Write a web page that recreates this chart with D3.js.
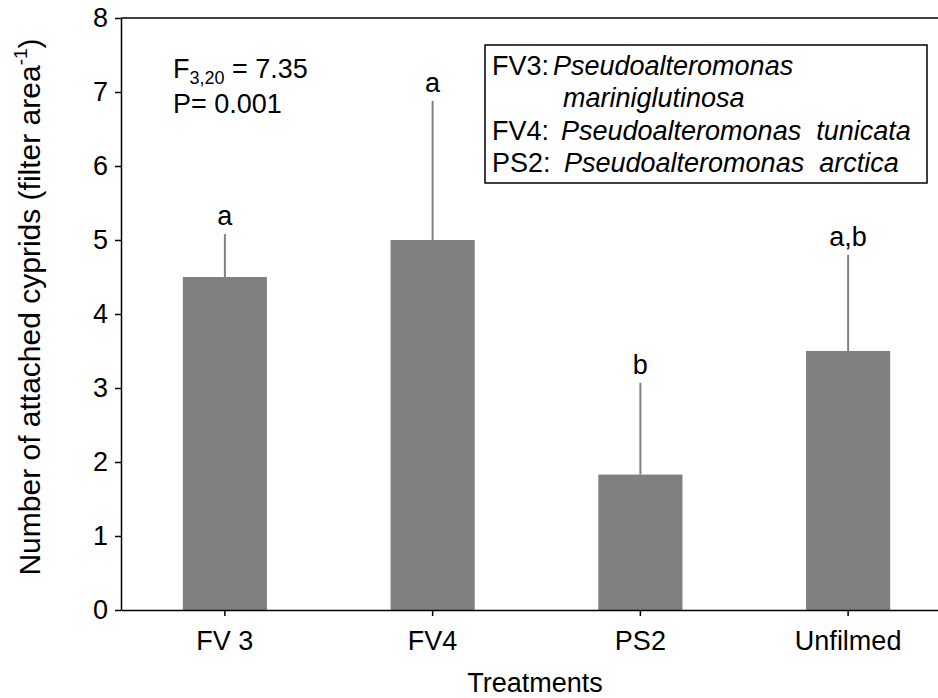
<!DOCTYPE html>
<html><head><meta charset="utf-8">
<script src="https://cdn.jsdelivr.net/npm/d3@7"></script>
<style>body{margin:0;background:#fff}svg{display:block}text{font-family:"Liberation Sans",Arial,sans-serif;fill:#000}</style>
</head><body>
<svg id="c" width="938" height="698"></svg>
<script>
const categories = ["FV 3", "FV4", "PS2", "Unfilmed"];
const means = [4.5, 5.0, 1.83, 3.5];
const errUpper = [5.08, 6.88, 3.07, 4.8];
const letters = ["a", "a", "b", "a,b"];
const yTicks = [0, 1, 2, 3, 4, 5, 6, 7, 8];

(function () {
const svg = d3.select("#c");
const pL = 121, pR = 952, pT = 18, pB = 610;
const fs = 27;
const x = d3.scaleBand().domain(categories).range([pL, pR]).paddingInner(0.595).paddingOuter(0.2975);
const y = d3.scaleLinear().domain([0, 8]).range([pB, pT]);

// bars
svg.selectAll("rect.bar").data(categories).join("rect").attr("class", "bar")
  .attr("x", d => x(d)).attr("width", x.bandwidth())
  .attr("y", (d, i) => y(means[i])).attr("height", (d, i) => y(0) - y(means[i]))
  .attr("fill", "#808080");

// error bars (upper only)
svg.selectAll("line.err").data(categories).join("line").attr("class", "err")
  .attr("x1", d => x(d) + x.bandwidth() / 2).attr("x2", d => x(d) + x.bandwidth() / 2)
  .attr("y1", (d, i) => y(means[i])).attr("y2", (d, i) => y(errUpper[i]))
  .attr("stroke", "#808080").attr("stroke-width", 2);

// letters
svg.selectAll("text.let").data(categories).join("text").attr("class", "let")
  .attr("x", d => x(d) + x.bandwidth() / 2).attr("y", (d, i) => y(errUpper[i]) - 9)
  .attr("text-anchor", "middle").attr("font-size", fs).text((d, i) => letters[i]);

// axes
const yAxis = d3.axisLeft(y).tickValues(yTicks).tickSize(6).tickPadding(7).tickSizeOuter(0);
const gy = svg.append("g").attr("transform", `translate(${pL},0)`).call(yAxis);
const xAxis = d3.axisBottom(x).tickSize(6).tickPadding(15).tickSizeOuter(0);
const gx = svg.append("g").attr("transform", `translate(0,${pB})`).call(xAxis);
[gx, gy].forEach(g => {
  g.select(".domain").attr("stroke", "#000").attr("stroke-width", 1.5);
  g.selectAll(".tick line").attr("stroke", "#000").attr("stroke-width", 1.5);
  g.selectAll(".tick text").attr("font-size", fs).attr("font-family", "Liberation Sans, Arial, sans-serif").attr("fill", "#000");
});
// top frame line
svg.append("line").attr("x1", pL).attr("x2", pR).attr("y1", y(8)).attr("y2", y(8))
  .attr("stroke", "#000").attr("stroke-width", 1.5);

// axis titles
svg.append("text").attr("x", 535).attr("y", 692).attr("text-anchor", "middle")
  .attr("font-size", fs).text("Treatments");
const yt = svg.append("text").attr("transform", `translate(40,307) rotate(-90)`)
  .attr("text-anchor", "middle").attr("font-size", 30);
yt.append("tspan").text("Number of attached cyprids (filter area");
yt.append("tspan").attr("font-size", 19).attr("dy", -13).text("-1");
yt.append("tspan").attr("dy", 13).text(")");

// stats annotation
const st = svg.append("text").attr("x", 173).attr("y", 78).attr("font-size", fs);
st.append("tspan").text("F");
st.append("tspan").attr("font-size", 18).attr("dy", 6).text("3,20");
st.append("tspan").attr("dy", -6).text(" = 7.35");
svg.append("text").attr("x", 173).attr("y", 113).attr("font-size", fs).text("P= 0.001");

// legend box
svg.append("rect").attr("x", 485).attr("y", 45).attr("width", 442).attr("height", 138)
  .attr("fill", "none").attr("stroke", "#000").attr("stroke-width", 1.5);
const legendLines = [
  {code: "FV3:", name: "Pseudoalteromonas", cx: 492, nx: 553},
  {code: "", name: "mariniglutinosa", cx: 492, nx: 563},
  {code: "FV4:", name: "Pseudoalteromonas  tunicata", cx: 492, nx: 561},
  {code: "PS2:", name: "Pseudoalteromonas  arctica", cx: 492, nx: 564}
];
const baselines = [75, 107, 140, 172];
legendLines.forEach((l, i) => {
  if (l.code) svg.append("text").attr("x", l.cx).attr("y", baselines[i]).attr("font-size", fs).text(l.code);
  svg.append("text").attr("x", l.nx).attr("y", baselines[i]).attr("font-size", fs)
    .attr("font-style", "italic").style("white-space", "pre").text(l.name);
});
})();
</script>
</body></html>
